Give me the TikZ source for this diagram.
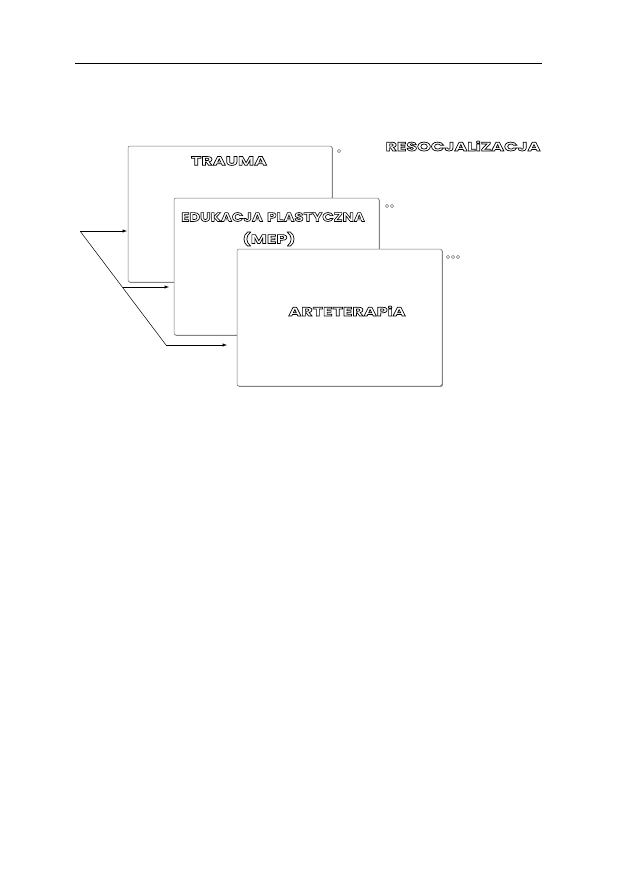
\documentclass[tikz,border=0pt]{standalone}
\usepackage{fontspec}
\newfontfamily\bubble{Poppins}[FakeStretch=1.4]
\usetikzlibrary{shadows}
% hollow letters: white fill, black outline
\newcommand{\hollow}[1]{\spaceskip=5pt\relax\special{pdf:literal direct 1 g 0 G 2 Tr 0.7 w}#1\special{pdf:literal direct 0 g 0 Tr}}
\tikzset{
    card/.style={draw=black!55, line width=0.5pt, rounded corners=2pt, fill=white,
        drop shadow={shadow xshift=0.7pt, shadow yshift=-0.7pt, fill=black!80, opacity=1}},
    title/.style={font=\bubble\bfseries\fontsize{12.5}{14}\selectfont, align=center, inner sep=0pt},
    dot/.style={draw=black!70, line width=0.35pt, fill=white},
    arr/.style={line width=0.5pt, -latex},
}
\begin{document}
\begin{tikzpicture}[x=1pt,y=-1pt]
    \useasboundingbox (0,0) rectangle (617,872);
    \coordinate (0) at (80,231);
    \coordinate (1) at (123,287);
    \coordinate (2) at (166,345);

    \draw[line width=0.8pt] (75,63) -- (542,63);

    \path[card] (128,146) rectangle (332,282);
    \path[card] (174,198) rectangle (379,335);
    \path[card] (237,249) rectangle (442,386);

    \node[title] (trauma) at (229,161) {\hollow{TRAUMA}};
    \node[title] (edukacja) at (273,217) {\scalebox{0.85}[1]{\hollow{EDUKACJA PLASTYCZNA}}};
    \node[title] (mep) at (269,239) {\hollow{(MEP)}};
    \node[title] (arte) at (347,311) {\hollow{ARTETERAPiA}};
    \node[title] (reso) at (463,146) {\hollow{RESOCJALiZACJA}};

    \draw[dot] (339,151) circle (1.6pt);
    \draw[dot] (387,206) circle (1.6pt);
    \draw[dot] (392,206) circle (1.6pt);
    \draw[dot] (448,257) circle (1.6pt);
    \draw[dot] (453,257) circle (1.6pt);
    \draw[dot] (458,257) circle (1.6pt);

    \coordinate (a1) at (127,231);
    \coordinate (a2) at (169,287);
    \coordinate (a3) at (227,345);
    \draw[line width=0.5pt] (0) -- (2);
    \draw[arr] (0) -- (a1);
    \draw[arr] (1) -- (a2);
    \draw[arr] (2) -- (a3);
\end{tikzpicture}
\end{document}
